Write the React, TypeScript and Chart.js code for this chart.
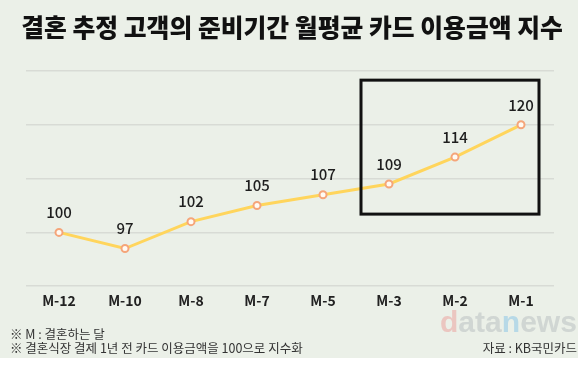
import React, { useEffect, useRef } from "react";
import { Chart, registerables } from "chart.js";

Chart.register(...registerables);

const TITLE = "결혼 추정 고객의 준비기간 월평균 카드 이용금액 지수";
const categories = ["M-12", "M-10", "M-8", "M-7", "M-5", "M-3", "M-2", "M-1"];
const indexValues = [100, 97, 102, 105, 107, 109, 114, 120];
const yTicks = [90, 100, 110, 120, 130];
const notes = ["※ M : 결혼하는 달", "※ 결혼식장 결제 1년 전 카드 이용금액을 100으로 지수화"];
const source = "자료 : KB국민카드";
const highlightRange = ["M-3", "M-1"];
const highlightValues = [103.4, 128.3];

const FONT = "'Noto Sans CJK KR', 'Noto Sans', sans-serif";
const BG = "#ebf0e8";

const decorPlugin = {
  id: "decor",
  beforeDraw(chart: any) {
    const ctx = chart.ctx;
    ctx.save();
    ctx.fillStyle = "#ffffff";
    ctx.fillRect(0, 0, chart.width, chart.height);
    ctx.fillStyle = BG;
    ctx.fillRect(0, 0, 578, 358);
    // watermark
    ctx.textBaseline = "alphabetic";
    ctx.textAlign = "left";
    const parts: [string, string][] = [
      ["d", "rgba(235,110,110,0.32)"],
      ["ata", "rgba(165,170,175,0.38)"],
      ["n", "rgba(100,180,230,0.38)"],
      ["ews", "rgba(165,170,175,0.38)"],
    ];
    ctx.font = `bold 30px 'Liberation Sans', Arial, sans-serif`;
    const full = parts.map((p) => p[0]).join("");
    const size = (30 * 137) / ctx.measureText(full).width;
    ctx.font = `bold ${size}px 'Liberation Sans', Arial, sans-serif`;
    let x = 440;
    for (const [t, c] of parts) {
      ctx.fillStyle = c;
      ctx.fillText(t, x, 332);
      x += ctx.measureText(t).width;
    }
    ctx.restore();
  },
  afterDraw(chart: any) {
    const ctx = chart.ctx;
    const xs = chart.scales.x;
    const ys = chart.scales.y;
    ctx.save();
    // title
    ctx.fillStyle = "#111111";
    ctx.font = `900 24.8px ${FONT}`;
    ctx.textAlign = "center";
    ctx.textBaseline = "middle";
    ctx.fillText(TITLE, 292, 28);
    // data labels
    const meta = chart.getDatasetMeta(0);
    ctx.font = `500 15px ${FONT}`;
    ctx.fillStyle = "#1e1e1e";
    meta.data.forEach((pt: any, i: number) => {
      ctx.fillText(String(indexValues[i]), pt.x, pt.y - 20);
    });
    // highlight box
    const x0 = xs.getPixelForValue(categories.indexOf(highlightRange[0])) - 28;
    const x1 = xs.getPixelForValue(categories.indexOf(highlightRange[1])) + 18;
    const y0 = ys.getPixelForValue(highlightValues[1]);
    const y1 = ys.getPixelForValue(highlightValues[0]);
    ctx.strokeStyle = "#111111";
    ctx.lineWidth = 3;
    ctx.strokeRect(x0, y0, x1 - x0, y1 - y0);
    // notes
    ctx.font = `12.5px ${FONT}`;
    ctx.fillStyle = "#333333";
    ctx.textAlign = "left";
    ctx.fillText(notes[0], 10, 334);
    ctx.fillText(notes[1], 10, 348);
    ctx.textAlign = "right";
    ctx.fillText(source, 577, 348);
    ctx.restore();
  },
};

export default function App() {
  const ref = useRef<HTMLCanvasElement>(null);
  useEffect(() => {
    if (!ref.current) return;
    const chart = new Chart(ref.current, {
      type: "line",
      data: {
        labels: categories,
        datasets: [
          {
            data: indexValues,
            borderColor: "#ffd55c",
            borderWidth: 3,
            pointRadius: 3.5,
            pointBorderWidth: 2,
            pointBackgroundColor: "#fffaf3",
            pointBorderColor: "#f5a57a",
            tension: 0,
          },
        ],
      },
      options: {
        animation: false,
        responsive: false,
        maintainAspectRatio: false,
        layout: { padding: { left: 26, right: 26, top: 71, bottom: 50 } },
        plugins: { legend: { display: false }, tooltip: { enabled: false }, title: { display: false } },
        scales: {
          x: {
            offset: true,
            grid: { display: false, drawTicks: false },
            border: { display: false },
            ticks: { color: "#222222", padding: 6, font: { size: 14, weight: 600, family: FONT } },
          },
          y: {
            min: yTicks[0],
            max: yTicks[yTicks.length - 1],
            afterBuildTicks: (s: any) => {
              s.ticks = yTicks.map((v) => ({ value: v }));
            },
            grid: { color: "#d8dbd5", lineWidth: 1.5, drawTicks: false },
            border: { display: false },
            ticks: { display: false },
          },
        },
      },
      plugins: [decorPlugin],
    });
    return () => chart.destroy();
  }, []);
  return (
    <div style={{ position: "fixed", left: 0, top: 0, width: 580, height: 365 }}>
      <canvas ref={ref} width={580} height={365} style={{ width: 580, height: 365, display: "block" }} />
    </div>
  );
}
